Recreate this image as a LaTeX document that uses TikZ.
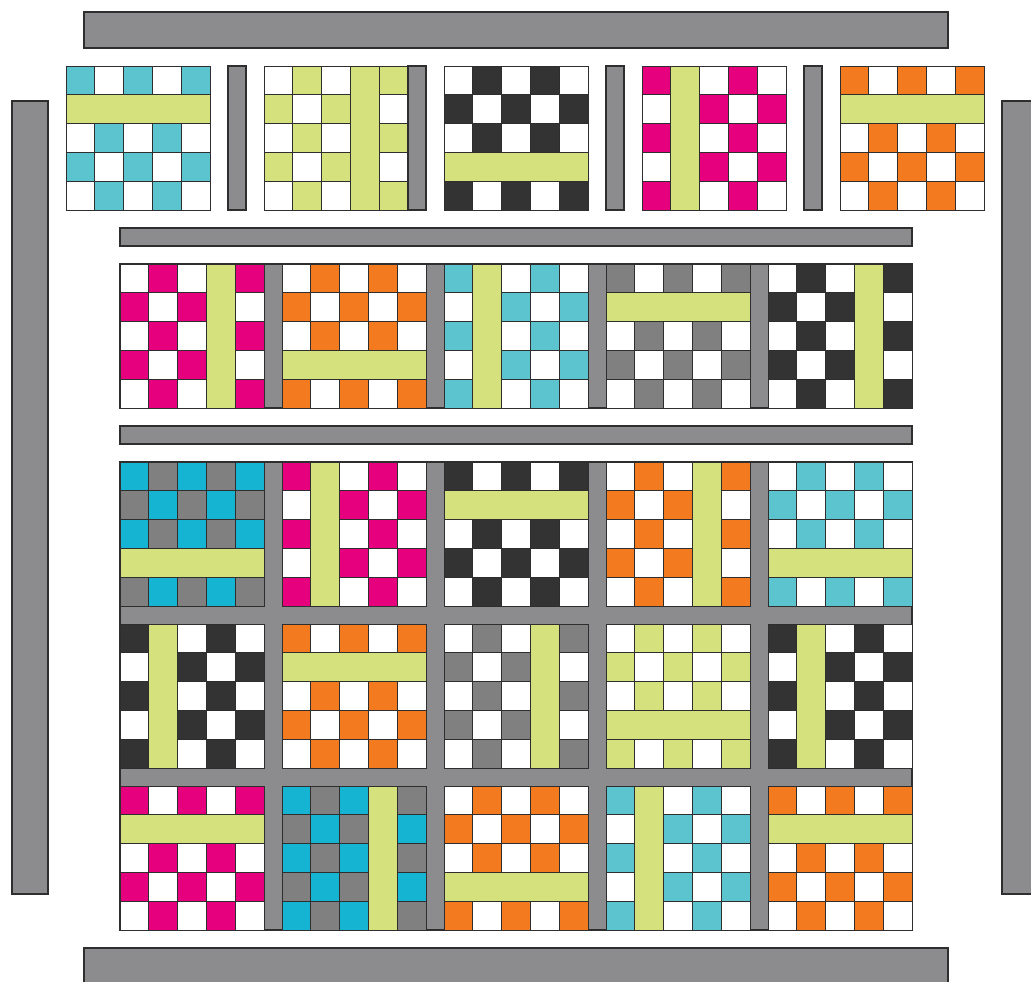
\documentclass[tikz,border=0pt]{standalone}
\usepackage{xcolor}
\usepackage{tikz}

\definecolor{qlime}{HTML}{D4E17C}
\definecolor{qsash}{HTML}{8C8C8E}
\definecolor{qgrey}{HTML}{808080}
\definecolor{qblack}{HTML}{333333}
\definecolor{qmag}{HTML}{E6007E}
\definecolor{qorange}{HTML}{F47A20}
\definecolor{qcyan}{HTML}{5CC4CF}
\definecolor{qteal}{HTML}{14B4D2}
\definecolor{qline}{HTML}{2E2E2E}

% \qblock{x}{y}{colour}{ground}{1=row strip, 0=column strip}{strip index}{parity}
\newcommand{\qblock}[7]{%
  \begin{scope}[shift={(#1,#2)}]
    \foreach \r in {0,...,4}{
      \foreach \c in {0,...,4}{
        \pgfmathtruncatemacro{\qln}{#5*\r+(1-#5)*\c}
        \pgfmathtruncatemacro{\qcr}{#5*\c+(1-#5)*\r}
        \pgfmathtruncatemacro{\qlc}{\qln>#6 ? \qln-1 : \qln}
        \pgfmathtruncatemacro{\qon}{mod(\qlc+\qcr+#7,2)==0}
        \ifnum\qln=#6\relax\else
          \ifnum\qon=1 \def\qfc{#3}\else\def\qfc{#4}\fi
          \draw[cell, fill=\qfc] (\c*28.8,\r*28.8) rectangle ++(28.8,28.8);
        \fi
      }
    }
    \ifnum#5=1
      \draw[strip] (0,#6*28.8) rectangle ++(144,28.8);
    \else
      \draw[strip] (#6*28.8,0) rectangle ++(28.8,144);
    \fi
  \end{scope}}

\begin{document}
\begin{tikzpicture}[
  x=0.02cm, y=-0.02cm,
  cell/.style={draw=qline, line width=0.5pt},
  strip/.style={draw=qline, line width=0.5pt, fill=qlime},
  bar/.style={draw=qline, line width=0.6pt, fill=qsash},
]
  \useasboundingbox[fill=white] (0,0) rectangle (1031,982);

  % borders
  \draw[bar] (84,12) rectangle (948,48);
  \draw[bar] (12,101) rectangle (48,894);
  \draw[bar] (1002,101) rectangle (1045,894);
  \draw[bar] (84,948) rectangle (948,995);

  % exploded top row
  \qblock{66}{66}{qcyan}{white}{1}{1}{0}
  \draw[bar] (228,66) rectangle (246,210);
  \qblock{264}{66}{qlime}{white}{0}{3}{1}
  \draw[bar] (408,66) rectangle (426,210);
  \qblock{444}{66}{qblack}{white}{1}{3}{1}
  \draw[bar] (606,66) rectangle (624,210);
  \qblock{642}{66}{qmag}{white}{0}{1}{0}
  \draw[bar] (804,66) rectangle (822,210);
  \qblock{840}{66}{qorange}{white}{1}{1}{0}

  \draw[bar] (120,228) rectangle (912,246);

  % second row
  \draw[bar] (120,264) rectangle (912,408);
  \qblock{120}{264}{qmag}{white}{0}{3}{1}
  \qblock{282}{264}{qorange}{white}{1}{3}{1}
  \qblock{444}{264}{qcyan}{white}{0}{1}{0}
  \qblock{606}{264}{qgrey}{white}{1}{1}{0}
  \qblock{768}{264}{qblack}{white}{0}{3}{1}

  \draw[bar] (120,426) rectangle (912,444);

  % sewn rows
  \draw[bar] (120,462) rectangle (912,930);
  \qblock{120}{462}{qteal}{qgrey}{1}{3}{0}
  \qblock{282}{462}{qmag}{white}{0}{1}{0}
  \qblock{444}{462}{qblack}{white}{1}{1}{0}
  \qblock{606}{462}{qorange}{white}{0}{3}{1}
  \qblock{768}{462}{qcyan}{white}{1}{3}{1}

  \qblock{120}{624}{qblack}{white}{0}{1}{0}
  \qblock{282}{624}{qorange}{white}{1}{1}{0}
  \qblock{444}{624}{qgrey}{white}{0}{3}{1}
  \qblock{606}{624}{qlime}{white}{1}{3}{1}
  \qblock{768}{624}{qblack}{white}{0}{1}{0}

  \qblock{120}{786}{qmag}{white}{1}{1}{0}
  \qblock{282}{786}{qteal}{qgrey}{0}{3}{0}
  \qblock{444}{786}{qorange}{white}{1}{3}{1}
  \qblock{606}{786}{qcyan}{white}{0}{1}{0}
  \qblock{768}{786}{qorange}{white}{1}{1}{0}
\end{tikzpicture}
\end{document}
